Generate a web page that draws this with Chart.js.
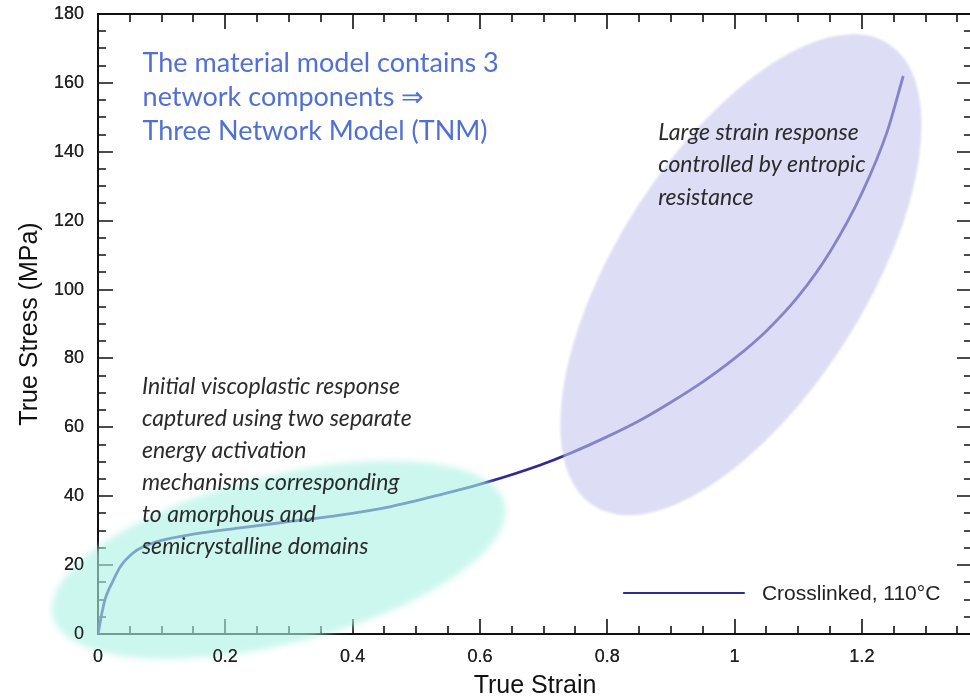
<!DOCTYPE html>
<html>
<head>
<meta charset="utf-8">
<title>True stress vs true strain - TNM</title>
<script src="https://cdn.jsdelivr.net/npm/chart.js@4"></script>
<style>
  html, body { margin: 0; padding: 0; background: #fff; overflow: hidden; }
  #wrap { width: 980px; height: 700px; }
</style>
</head>
<body>
<div id="wrap"><canvas id="tnmChart" width="980" height="700"></canvas></div>
<script>
// values
const strain = [0, 0.003, 0.006, 0.011, 0.016, 0.022, 0.035, 0.055, 0.071, 0.1, 0.15, 0.223, 0.3, 0.38, 0.46, 0.537, 0.61, 0.694, 0.741, 0.8, 0.851, 0.9, 0.95, 1.0, 1.05, 1.1, 1.15, 1.2, 1.24, 1.265];
const stress = [0, 3, 6, 10, 12.5, 14.8, 19.5, 23.5, 25.3, 27.2, 29, 30.8, 32.6, 34.5, 37, 40.4, 44, 49, 52.4, 57.3, 62, 67.3, 73.2, 80, 88, 98, 111, 128, 146, 162];
const seriesLabel = "Crosslinked, 110°C";
const xTickValues = [0, 0.2, 0.4, 0.6, 0.8, 1, 1.2];
const yTickValues = [0, 20, 40, 60, 80, 100, 120, 140, 160, 180];
const xMax = 1.373;
const yMax = 180;

const noteModel = ["The material model contains 3", "network components \u21D2", "Three Network Model (TNM)"];
const noteLow = ["Initial viscoplastic response", "captured using two separate", "energy activation", "mechanisms corresponding", "to amorphous and", "semicrystalline domains"];
const noteHigh = ["Large strain response", "controlled by entropic", "resistance"];

// annotation placement (data units for anchors, pixels for sizes)
const regions = [
  { cx: 0.284, cy: 21.5, rx: 233, ry: 84, angle: 14, color: "rgba(172, 242, 227, 0.62)", blur: 3 },
  { cx: 1.01, cy: 104.3, rx: 274, ry: 124, angle: 57.5, color: "rgba(196, 196, 238, 0.58)", blur: 1 }
];
const notes = [
  { lines: noteModel, x: 0.07, y: 163.2, lh: 34, font: "27px Lato, 'Open Sans', sans-serif", color: "#5070d4" },
  { lines: noteLow, x: 0.069, y: 69.8, lh: 32, font: "italic 23px Lato, 'Open Sans', sans-serif", color: "#2b2b2b" },
  { lines: noteHigh, x: 0.88, y: 143.5, lh: 32.5, font: "italic 23px Lato, 'Open Sans', sans-serif", color: "#2b2b2b" }
];
const legendPos = { x0: 0.825, x1: 1.016, xText: 1.043, y: 11.9 };

const points = strain.map((s, i) => ({ x: s, y: stress[i] }));
const lineColor = "#2e2a9a";
const axisFont = "Liberation Sans, Arial, sans-serif";

const framePlugin = {
  id: "frame",
  beforeDatasetsDraw(chart) {
    const { ctx, chartArea: a, scales: { x, y } } = chart;
    ctx.save();
    ctx.strokeStyle = "#111";
    ctx.lineWidth = 2;
    ctx.strokeRect(a.left, a.top, a.right - a.left, a.bottom - a.top);
    ctx.lineWidth = 1.6;
    ctx.beginPath();
    for (let i = 0; i * 0.05 <= xMax + 1e-9; i++) {
      const px = Math.round(x.getPixelForValue(i * 0.05));
      const len = i % 4 === 0 ? 15 : 8;
      ctx.moveTo(px, a.bottom); ctx.lineTo(px, a.bottom - len);
      ctx.moveTo(px, a.top); ctx.lineTo(px, a.top + len);
    }
    for (let i = 0; i * 5 <= yMax; i++) {
      const py = Math.round(y.getPixelForValue(i * 5));
      const len = i % 4 === 0 ? 15 : 8;
      ctx.moveTo(a.left, py); ctx.lineTo(a.left + len, py);
      ctx.moveTo(a.right, py); ctx.lineTo(a.right - len, py);
    }
    ctx.stroke();
    ctx.restore();
  }
};

const notesPlugin = {
  id: "notes",
  afterDatasetsDraw(chart) {
    const { ctx, chartArea, scales: { x, y } } = chart;

    // shaded regions sit on top of the curve and the axes
    regions.forEach(r => {
      ctx.save();
      ctx.filter = `blur(${r.blur}px)`;
      ctx.fillStyle = r.color;
      ctx.beginPath();
      ctx.ellipse(x.getPixelForValue(r.cx), y.getPixelForValue(r.cy), r.rx, r.ry, -r.angle * Math.PI / 180, 0, Math.PI * 2);
      ctx.fill();
      ctx.restore();
    });

    // tick labels stay readable above the shading
    x.drawLabels(chartArea);
    y.drawLabels(chartArea);

    notes.forEach(n => {
      ctx.save();
      ctx.font = n.font;
      ctx.fillStyle = n.color;
      ctx.textBaseline = "alphabetic";
      const left = x.getPixelForValue(n.x);
      const top = y.getPixelForValue(n.y);
      n.lines.forEach((line, i) => ctx.fillText(line, left, top + i * n.lh));
      ctx.restore();
    });

    // legend inside the plot, bottom right
    const ds = chart.data.datasets[0];
    const ly = y.getPixelForValue(legendPos.y);
    ctx.save();
    ctx.strokeStyle = ds.borderColor;
    ctx.lineWidth = 2;
    ctx.beginPath();
    ctx.moveTo(x.getPixelForValue(legendPos.x0), ly);
    ctx.lineTo(x.getPixelForValue(legendPos.x1), ly);
    ctx.stroke();
    ctx.font = `21px ${axisFont}`;
    ctx.fillStyle = "#222";
    ctx.textBaseline = "middle";
    ctx.fillText(ds.label, x.getPixelForValue(legendPos.xText), ly + 1);
    ctx.restore();
  }
};

new Chart(document.getElementById("tnmChart"), {
  type: "scatter",
  data: {
    datasets: [{
      label: seriesLabel,
      data: points,
      showLine: true,
      borderColor: lineColor,
      borderWidth: 2.8,
      pointRadius: 0,
      fill: false,
      cubicInterpolationMode: "monotone"
    }]
  },
  options: {
    responsive: false,
    animation: false,
    layout: { padding: { top: 14, right: 8, left: 0, bottom: 0 } },
    plugins: {
      legend: { display: false },
      tooltip: { enabled: false }
    },
    scales: {
      x: {
        type: "linear",
        min: 0,
        max: xMax,
        afterBuildTicks: scale => { scale.ticks = xTickValues.map(v => ({ value: v })); },
        afterFit: scale => { scale.height = 66; scale.paddingLeft = 0; scale.paddingRight = 0; },
        grid: { display: false, drawTicks: false },
        border: { display: false },
        ticks: {
          padding: 12,
          color: "#222",
          font: { family: axisFont, size: 18 },
          callback: v => String(v)
        },
        title: {
          display: true,
          text: "True Strain",
          color: "#111",
          padding: { top: 0, bottom: 0 },
          font: { family: axisFont, size: 25, lineHeight: 1.1 }
        }
      },
      y: {
        min: 0,
        max: yMax,
        afterBuildTicks: scale => { scale.ticks = yTickValues.map(v => ({ value: v })); },
        afterFit: scale => { scale.width = 98; scale.paddingTop = 0; scale.paddingBottom = 0; },
        grid: { display: false, drawTicks: false },
        border: { display: false },
        ticks: {
          padding: 14,
          color: "#222",
          font: { family: axisFont, size: 18 },
          callback: v => String(v)
        },
        title: {
          display: true,
          text: "True Stress (MPa)",
          color: "#111",
          padding: { top: 16, bottom: 0 },
          font: { family: axisFont, size: 25, lineHeight: 1.1 }
        }
      }
    }
  },
  plugins: [framePlugin, notesPlugin]
});
</script>
</body>
</html>
